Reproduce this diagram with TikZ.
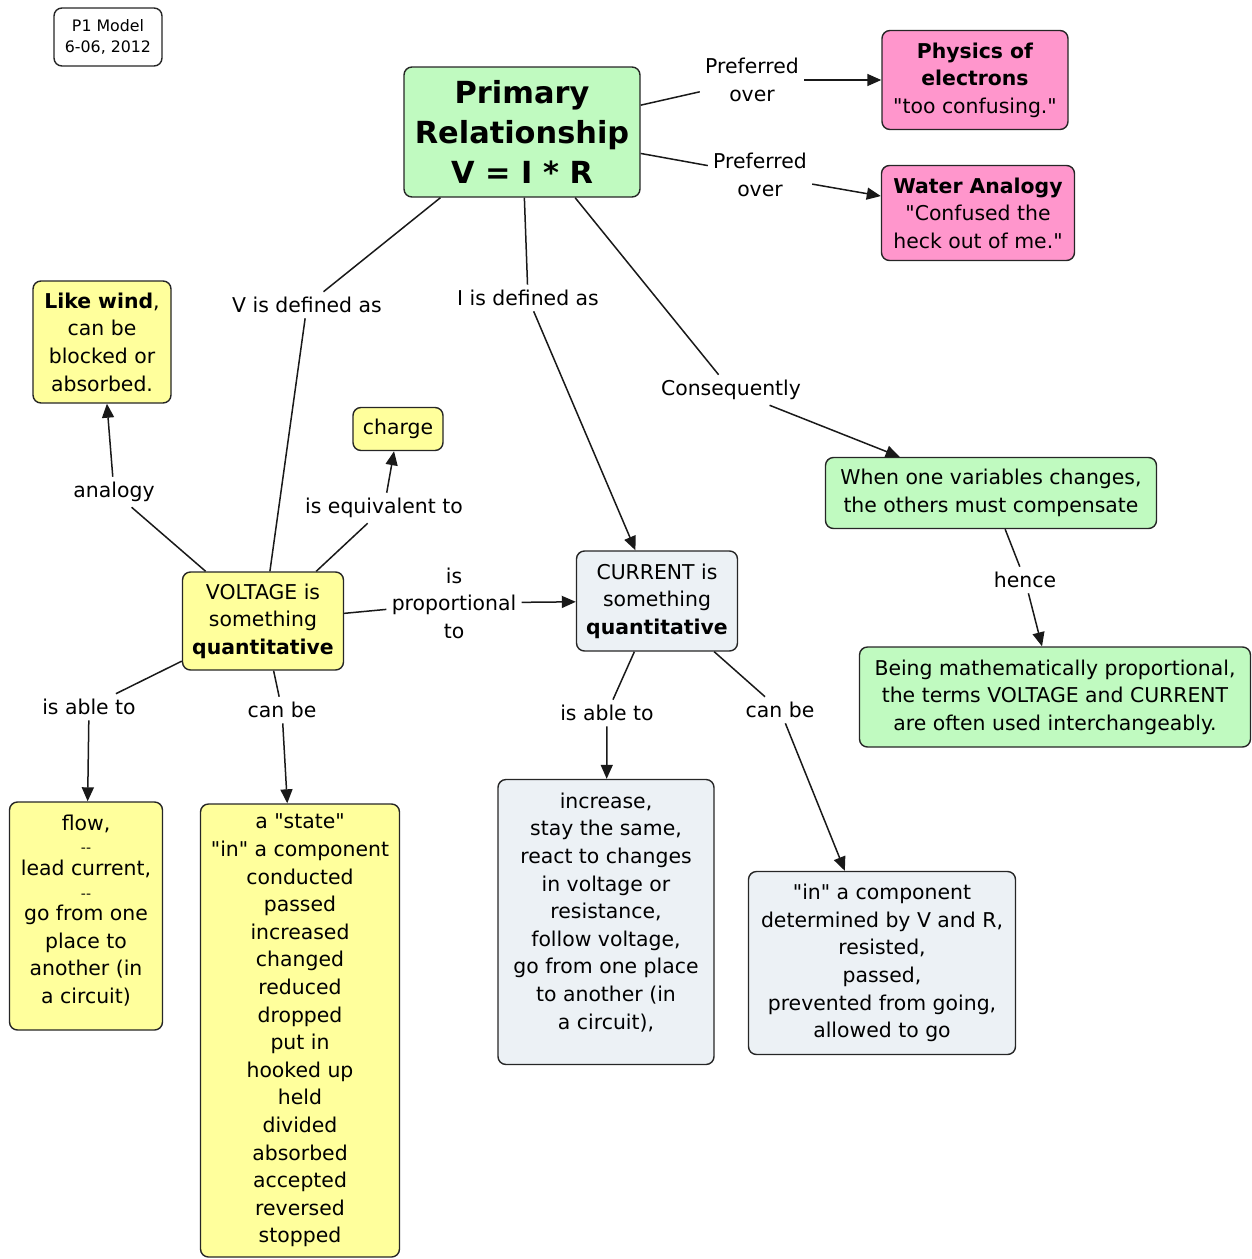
\documentclass[tikz,border=0pt]{standalone}
\usepackage{fontspec}
\setmainfont{DejaVu Sans}[Ligatures=TeXOff]
\usepackage{xcolor}
\usepackage{tikz}
\usetikzlibrary{arrows.meta}
\definecolor{cmapyellow}{RGB}{255,255,156}
\definecolor{cmapgreen}{RGB}{192,250,192}
\definecolor{cmappink}{RGB}{255,150,204}
\definecolor{cmapgray}{RGB}{236,241,245}
\def\txt{\fontsize{10.2}{13.8}\selectfont}
\def\sep{{\fontsize{7}{7}\selectfont --}}
\tikzset{
	concept/.style={draw=black!85, line width=0.7pt, rounded corners=4pt,
		align=center, inner sep=2pt, font=\txt},
	linklbl/.style={align=center, inner sep=2.5pt, font=\txt},
	link/.style={line width=0.75pt, black!90},
	linkarr/.style={link, -{Triangle[length=7pt,width=6pt]}},
}

\begin{document}
\begin{tikzpicture}[x=0.5pt, y=-0.5pt]
	\useasboundingbox (0,0) rectangle (1252,1259);
	% concepts
	\node[concept, fill=white, minimum width=54pt, minimum height=29pt,
		font=\fontsize{7.9}{10.5}\selectfont] (mo) at (108,37) {P1 Model\\6-06, 2012};
	\node[concept, fill=cmapgreen, minimum width=118pt, minimum height=65pt,
		font=\fontsize{15.2}{20}\selectfont\bfseries] (pr) at (522,132) {Primary\\Relationship\\V = I * R};
	\node[concept, fill=cmappink, minimum width=93pt, minimum height=49.5pt] (ph) at (975,80)
		{\textbf{Physics of}\\\textbf{electrons}\\"too confusing."};
	\node[concept, fill=cmappink, minimum width=96.5pt, minimum height=47.5pt] (wa) at (978,213)
		{\textbf{Water Analogy}\\"Confused the\\heck out of me."};
	\node[concept, fill=cmapyellow, minimum width=69pt, minimum height=61pt] (wi) at (102,342)
		{\textbf{Like wind},\\can be\\blocked or\\absorbed.};
	\node[concept, fill=cmapyellow, minimum width=45pt, minimum height=21.5pt] (ch) at (398,429) {charge};
	\node[concept, fill=cmapyellow, minimum width=80.5pt, minimum height=49pt] (vo) at (263,621)
		{VOLTAGE is\\something\\\textbf{quantitative}};
	\node[concept, fill=cmapgray, minimum width=80.5pt, minimum height=50pt] (cu) at (657,601)
		{CURRENT is\\something\\\textbf{quantitative}};
	\node[concept, fill=cmapgreen, minimum width=165.5pt, minimum height=35.5pt] (wh) at (991,493)
		{When one variables changes,\\the others must compensate};
	\node[concept, fill=cmapgreen, minimum width=195.5pt, minimum height=50pt] (be) at (1055,697)
		{Being mathematically proportional,\\the terms VOLTAGE and CURRENT\\are often used interchangeably.};
	\node[concept, fill=cmapyellow, minimum width=76.5pt, minimum height=114pt] (fl) at (86,916)
		{flow,\\[-2.5pt]\sep\\[-2.5pt]lead current,\\[-2.5pt]\sep\\[-2.5pt]go from one\\place to\\another (in\\a circuit)\\[-7pt]\mbox{}};
	\node[concept, fill=cmapyellow, minimum width=99.5pt, minimum height=226.5pt] (st) at (300,1030.5)
		{a "state"\\"in" a component\\conducted\\passed\\increased\\changed\\reduced\\dropped\\put in\\hooked up\\held\\divided\\absorbed\\accepted\\reversed\\stopped};
	\node[concept, fill=cmapgray, minimum width=108pt, minimum height=142.5pt] (in) at (606,922)
		{increase,\\stay the same,\\react to changes\\in voltage or\\resistance,\\follow voltage,\\go from one place\\to another (in\\a circuit),\\[-2.8pt]\mbox{}};
	\node[concept, fill=cmapgray, minimum width=133.5pt, minimum height=91.5pt] (co) at (882,963)
		{"in" a component\\determined by V and R,\\resisted,\\passed,\\prevented from going,\\allowed to go};
	% link labels
	\node[linklbl] (l1) at (752,80) {Preferred\\over};
	\node[linklbl] (l2) at (760,175) {Preferred\\over};
	\node[linklbl] (l3) at (307,305) {V is defined as};
	\node[linklbl] (l4) at (528,298) {I is defined as};
	\node[linklbl] (l5) at (731,390) {Consequently};
	\node[linklbl] (l6) at (114,492) {analogy};
	\node[linklbl] (l7) at (384,508) {is equivalent to};
	\node[linklbl] (l8) at (454,603) {is\\proportional\\to};
	\node[linklbl] (l9) at (89,707) {is able to};
	\node[linklbl] (l10) at (282,710) {can be};
	\node[linklbl] (l11) at (607,713) {is able to};
	\node[linklbl] (l12) at (780,710) {can be};
	\node[linklbl] (l13) at (1025,580) {hence};
	% connectors
	\draw[link] (pr) -- (l1);
	\draw[linkarr] (l1) -- (ph);
	\draw[link] (pr) -- (l2);
	\draw[linkarr] (l2) -- (wa);
	\draw[link] (pr) -- (l3);
	\draw[link] (l3) -- (vo);
	\draw[link] (pr) -- (l4);
	\draw[linkarr] (l4) -- (cu);
	\draw[link] (pr) -- (l5);
	\draw[linkarr] (l5) -- (wh);
	\draw[link] (vo) -- (l6);
	\draw[linkarr] (l6) -- (wi);
	\draw[link] (vo) -- (l7);
	\draw[linkarr] (l7) -- (ch);
	\draw[link] (vo) -- (l8);
	\draw[linkarr] (l8) -- (cu);
	\draw[link] (vo) -- (l9);
	\draw[linkarr] (l9) -- (fl);
	\draw[link] (vo) -- (l10);
	\draw[linkarr] (l10) -- (st);
	\draw[link] (cu) -- (l11);
	\draw[linkarr] (l11) -- (in);
	\draw[link] (cu) -- (l12);
	\draw[linkarr] (l12) -- (co);
	\draw[link] (wh) -- (l13);
	\draw[linkarr] (l13) -- (be);
\end{tikzpicture}
\end{document}
